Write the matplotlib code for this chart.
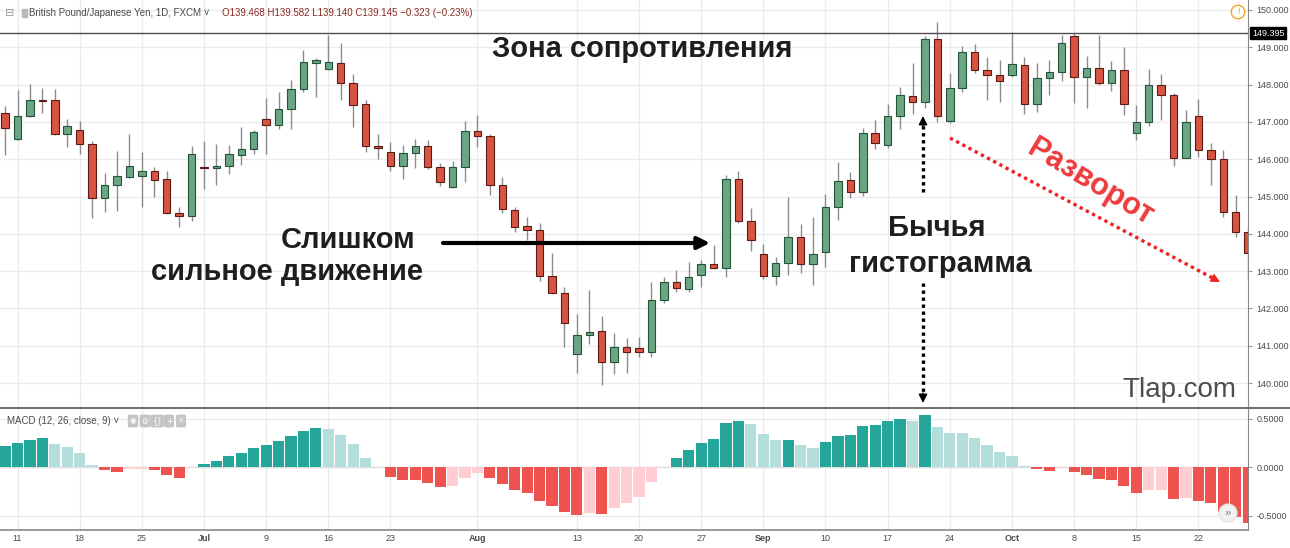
import numpy as np
import matplotlib
matplotlib.use("Agg")
import matplotlib.pyplot as plt
from matplotlib.lines import Line2D
from matplotlib.patches import Rectangle

plt.rcParams['font.family'] = ['Liberation Sans', 'DejaVu Sans']

# --- data (GBP/JPY daily, 8 Jun 2018 - 26 Oct 2018) ---
bar_index = np.arange(-1, 100)

opens = [147.23, 146.55, 147.16, 147.58, 147.58, 146.67, 146.78, 146.41, 144.97, 145.31,
         145.53, 145.56, 145.69, 145.47, 144.57, 144.49, 145.77, 145.76, 145.83, 146.12,
         146.27, 147.09, 146.92, 147.34, 147.87, 148.59, 148.41, 148.59, 148.05, 147.47,
         146.36, 146.20, 145.82, 146.16, 146.36, 145.78, 145.26, 145.80, 146.76, 146.62,
         145.30, 144.64, 144.21, 144.10, 142.88, 142.40, 140.77, 141.30, 141.39, 140.57,
         140.97, 140.94, 140.84, 142.23, 142.72, 142.52, 142.90, 143.18, 143.09, 145.46,
         144.35, 143.46, 142.87, 143.21, 143.91, 143.18, 143.52, 144.73, 145.44, 145.13,
         146.71, 146.38, 147.16, 147.70, 147.54, 149.21, 147.02, 147.92, 148.88, 148.39,
         148.26, 148.26, 148.53, 147.48, 148.17, 148.35, 149.30, 148.21, 148.45, 148.03,
         148.39, 146.69, 147.01, 147.99, 147.72, 146.02, 147.16, 146.25, 146.00, 144.58,
         144.06]
highs = [147.43, 147.86, 148.02, 147.92, 147.88, 147.07, 147.02, 146.49, 145.64, 146.23,
         146.67, 146.19, 145.80, 145.68, 144.71, 146.35, 146.50, 146.40, 146.37, 146.87,
         146.78, 147.63, 147.81, 148.12, 148.93, 148.72, 149.33, 149.12, 148.28, 147.59,
         146.68, 146.45, 146.37, 146.53, 146.51, 145.89, 145.95, 147.03, 147.18, 146.67,
         145.53, 144.73, 144.46, 144.28, 143.49, 142.58, 141.85, 142.49, 141.80, 141.35,
         141.20, 141.24, 142.72, 142.85, 143.03, 143.25, 143.30, 143.70, 145.58, 145.69,
         144.70, 143.73, 143.39, 145.00, 144.26, 144.46, 145.06, 145.93, 145.67, 146.84,
         147.05, 147.48, 147.94, 148.57, 149.31, 149.69, 148.32, 149.03, 149.09, 148.75,
         148.66, 149.42, 148.73, 148.59, 148.66, 149.33, 149.38, 148.77, 149.33, 148.64,
         149.02, 147.45, 148.41, 148.28, 147.78, 147.32, 147.61, 146.43, 146.25, 145.04,
         144.20]
lows = [146.11, 146.51, 147.13, 147.23, 146.65, 146.32, 146.13, 144.42, 144.59, 144.61,
        145.49, 144.72, 145.00, 144.54, 144.17, 144.35, 145.20, 145.30, 145.59, 145.84,
        146.14, 146.13, 146.82, 146.82, 147.81, 147.68, 148.38, 147.59, 146.87, 146.20,
        146.00, 145.69, 145.47, 145.77, 145.75, 145.28, 145.24, 145.38, 146.34, 145.04,
        144.55, 144.06, 143.83, 142.74, 142.38, 140.96, 140.26, 141.04, 139.95, 140.24,
        140.26, 140.70, 140.70, 142.15, 142.45, 142.45, 142.58, 143.05, 142.85, 144.30,
        143.54, 142.80, 142.63, 142.90, 142.96, 142.63, 143.10, 144.37, 144.95, 145.01,
        146.27, 146.30, 146.80, 147.20, 147.36, 147.00, 146.96, 147.81, 148.30, 147.59,
        147.54, 148.21, 147.20, 147.27, 147.72, 148.10, 147.51, 147.36, 148.00, 147.84,
        147.18, 146.51, 146.89, 147.05, 145.83, 146.02, 146.07, 145.31, 144.44, 143.92,
        142.80]
closes = [146.83, 147.16, 147.59, 147.57, 146.67, 146.89, 146.42, 144.97, 145.31, 145.55,
          145.83, 145.69, 145.45, 144.56, 144.49, 146.13, 145.76, 145.83, 146.13, 146.27,
          146.74, 146.92, 147.34, 147.87, 148.60, 148.65, 148.60, 148.03, 147.45, 146.36,
          146.29, 145.82, 146.17, 146.36, 145.78, 145.38, 145.80, 146.76, 146.62, 145.30,
          144.66, 144.19, 144.10, 142.87, 142.40, 141.62, 141.30, 141.38, 140.57, 140.97,
          140.84, 140.84, 142.23, 142.72, 142.54, 142.85, 143.19, 143.09, 145.46, 144.35,
          143.83, 142.87, 143.21, 143.91, 143.18, 143.46, 144.73, 145.42, 145.13, 146.71,
          146.43, 147.16, 147.72, 147.54, 149.21, 147.15, 147.92, 148.88, 148.39, 148.26,
          148.10, 148.54, 147.48, 148.17, 148.35, 149.12, 148.21, 148.45, 148.03, 148.39,
          147.48, 147.01, 147.99, 147.72, 146.02, 147.01, 146.25, 146.00, 144.58, 144.06,
          143.48]

macd_hist = [0.223, 0.247, 0.285, 0.299, 0.237, 0.210, 0.148, 0.024, -0.031, -0.045,
             -0.020, -0.014, -0.024, -0.076, -0.107, -0.002, 0.034, 0.069, 0.113, 0.151,
             0.196, 0.234, 0.271, 0.320, 0.378, 0.402, 0.395, 0.333, 0.241, 0.093,
             0.002, -0.096, -0.131, -0.133, -0.161, -0.206, -0.189, -0.107, -0.055, -0.107,
             -0.175, -0.234, -0.265, -0.344, -0.395, -0.460, -0.488, -0.471, -0.478, -0.423,
             -0.368, -0.302, -0.148, 0.004, 0.092, 0.179, 0.253, 0.290, 0.458, 0.482,
             0.444, 0.340, 0.282, 0.284, 0.230, 0.200, 0.262, 0.327, 0.334, 0.421,
             0.438, 0.472, 0.500, 0.479, 0.541, 0.417, 0.355, 0.352, 0.300, 0.231,
             0.155, 0.121, 0.014, -0.014, -0.034, -0.007, -0.052, -0.076, -0.121, -0.128,
             -0.193, -0.266, -0.234, -0.232, -0.331, -0.317, -0.345, -0.366, -0.459, -0.517,
             -0.572]

tick_pos = [0, 5, 10, 15, 20, 25, 30, 37, 45, 50, 55, 60, 65, 70, 75, 80, 85, 90, 95]
tick_labels = ["11", "18", "25", "Jul", "9", "16", "23", "Aug", "13", "20",
               "27", "Sep", "10", "17", "24", "Oct", "8", "15", "22"]
month_labels = ["Jul", "Aug", "Sep", "Oct"]

price_ticks = np.arange(140, 151)
macd_ticks = [-0.5, 0.0, 0.5]
resistance = 149.395

# --- figure ---
W, H = 1290, 548
fig = plt.figure(figsize=(W / 100, H / 100), dpi=100)


def fx(px):
    return px / W


def fy(py):
    return 1 - py / H


ax1 = fig.add_axes([0, fy(408), fx(1248), 408 / H])
ax2 = fig.add_axes([0, fy(530), fx(1248), 122 / H], sharex=ax1)

grid_c = '#ebebeb'
label_c = '#4a4a4a'

o = np.array(opens)
h = np.array(highs)
l = np.array(lows)
c = np.array(closes)
up = c >= o

# candles
ax1.vlines(bar_index, l, h, color='#8c8c8c', lw=1, zorder=2)
body_lo = np.minimum(o, c)
body_h = np.maximum(np.abs(c - o), 0.03)
ax1.bar(bar_index, body_h, bottom=body_lo, width=0.6,
        color=np.where(up, '#6BA583', '#D75442'),
        edgecolor=np.where(up, '#225437', '#5B1A13'), lw=0.8, zorder=3)
ax1.axhline(resistance, color='#4d4d4d', lw=1, zorder=4)

ax1.set_xlim(-1.408, 98.99)
ax1.set_ylim(139.33, 150.268)
ax1.set_yticks(price_ticks)
ax1.set_yticklabels([f"{v:.3f}" for v in price_ticks])
ax1.set_xticks(tick_pos)
ax1.tick_params(axis='x', length=0, labelbottom=False)

# MACD histogram
hist = np.array(macd_hist)
rising = np.diff(hist, prepend=hist[0]) >= 0
cols = np.where(hist >= 0, np.where(rising, '#26A69A', '#B2DFDB'),
                np.where(rising, '#FFCDD2', '#EF5350'))
ax2.bar(bar_index, hist, width=0.9, color=cols, lw=0, zorder=3)
ax2.axhline(0, color='#e0e0e0', lw=1, zorder=1)
ax2.set_ylim(-0.646, 0.611)
ax2.set_yticks(macd_ticks)
ax2.set_yticklabels([f"{v:.4f}" for v in macd_ticks])
ax2.set_xticks(tick_pos)
ax2.set_xticklabels(tick_labels)
for t in ax2.get_xticklabels():
    if t.get_text() in month_labels:
        t.set_fontweight('bold')

for ax in (ax1, ax2):
    ax.set_facecolor('white')
    ax.grid(True, color=grid_c, lw=1, zorder=0)
    ax.set_axisbelow(True)
    ax.yaxis.tick_right()
    ax.tick_params(axis='y', length=3, color='#999999', labelsize=6.5,
                   labelcolor=label_c, pad=3)
    ax.tick_params(axis='x', labelsize=6.5, labelcolor=label_c, length=0, pad=3)
    for s in ('left', 'top', 'bottom'):
        ax.spines[s].set_visible(False)
    ax.spines['right'].set_color('#8a8a8a')

# panel separators
fig.add_artist(Line2D([0, 1], [fy(408), fy(408)], color='#6e6e6e', lw=1.4))
fig.add_artist(Line2D([0, fx(1248)], [fy(530), fy(530)], color='#8a8a8a', lw=1.2))

# header
fig.text(fx(5), fy(13), "\u229f", fontsize=8, color='#9a9a9a', va='center',
         family='DejaVu Sans')
fig.add_artist(Rectangle((fx(22), fy(17)), fx(5), 8 / H, color='#b8b8b8'))
fig.text(fx(29), fy(13), "British Pound/Japanese Yen, 1D, FXCM \u02c5", fontsize=7.0,
         color=label_c, va='center')
fig.text(fx(222), fy(13), "O139.468 H139.582 L139.140 C139.145 \u22120.323 (\u22120.23%)",
         fontsize=7.0, color='#8b2a24', va='center')
fig.text(fx(1238), fy(12), "!", fontsize=6.5, color='#f5a623', ha='center', va='center',
         bbox=dict(boxstyle='circle,pad=0.25', fc='white', ec='#f5a623', lw=1))
fig.text(fx(1252), fy(33), "149.395", fontsize=6.5, color='white', va='center',
         bbox=dict(boxstyle='square,pad=0.2', fc='black', ec='black'))

# MACD header
fig.text(fx(7), fy(421), "MACD (12, 26, close, 9) \u02c5", fontsize=7, color=label_c,
         va='center')
for k, g in enumerate(["\u25c9", "\u2699", "{}", "+", "\u00d7"]):
    fig.text(fx(133 + k * 12), fy(421), g, fontsize=5.5, color='white', ha='center',
             va='center', family='DejaVu Sans',
             bbox=dict(boxstyle='round,pad=0.25', fc='#c4c4c4', ec='none'))
fig.text(fx(1228), fy(513), "\u00bb", fontsize=8, color='#6a7a90', ha='center',
         va='center', bbox=dict(boxstyle='circle,pad=0.35', fc='#f2f2f2', ec='#e4e4e4'))

# annotations
txt_c = '#1e1e1e'
fig.text(fx(642), fy(49), "Зона сопротивления", fontsize=21, weight='bold',
         color=txt_c, ha='center', va='center')
fig.text(fx(415), fy(240), "Слишком", fontsize=21, weight='bold', color=txt_c,
         ha='right', va='center')
fig.text(fx(423), fy(272), "сильное движение", fontsize=21, weight='bold', color=txt_c,
         ha='right', va='center')
fig.text(fx(937), fy(228), "Бычья", fontsize=21, weight='bold', color=txt_c,
         ha='center', va='center')
fig.text(fx(940), fy(264), "гистограмма", fontsize=21, weight='bold', color=txt_c,
         ha='center', va='center')
fig.text(fx(1090), fy(182), "Разворот", fontsize=22, weight='bold', color='#ee3b3b',
         ha='center', va='center', rotation=-31, rotation_mode='anchor')
fig.text(fx(1179), fy(390), "Tlap.com", fontsize=20, color='#4d4d4d',
         ha='center', va='center')

arrow_kw = dict(xycoords='figure fraction', textcoords='figure fraction')
ax1.annotate("", xy=(fx(710), fy(243)), xytext=(fx(443), fy(243)), **arrow_kw,
             arrowprops=dict(arrowstyle='-|>', lw=3, color='black', mutation_scale=18,
                             shrinkA=0, shrinkB=0))


def dotted_arrow(x0, y0, x1, y1, color):
    # dotted shaft, solid head (pixel coordinates of the picture)
    d = np.hypot(x1 - x0, y1 - y0)
    ux, uy = (x1 - x0) / d, (y1 - y0) / d
    fig.add_artist(Line2D([fx(x0), fx(x1 - ux * 8)], [fy(y0), fy(y1 - uy * 8)],
                          color=color, lw=2.4, ls=(0, (1, 1.1))))
    ax1.annotate("", xy=(fx(x1), fy(y1)), xytext=(fx(x1 - ux * 10), fy(y1 - uy * 10)),
                 **arrow_kw, arrowprops=dict(arrowstyle='-|>', lw=1, color=color,
                                             mutation_scale=13, shrinkA=0, shrinkB=0))


dotted_arrow(923, 192, 923, 116, 'black')
dotted_arrow(923, 283, 923, 403, 'black')
dotted_arrow(950, 138, 1220, 282, '#ee2020')

fig.savefig("out.png", dpi=100, facecolor='white')
